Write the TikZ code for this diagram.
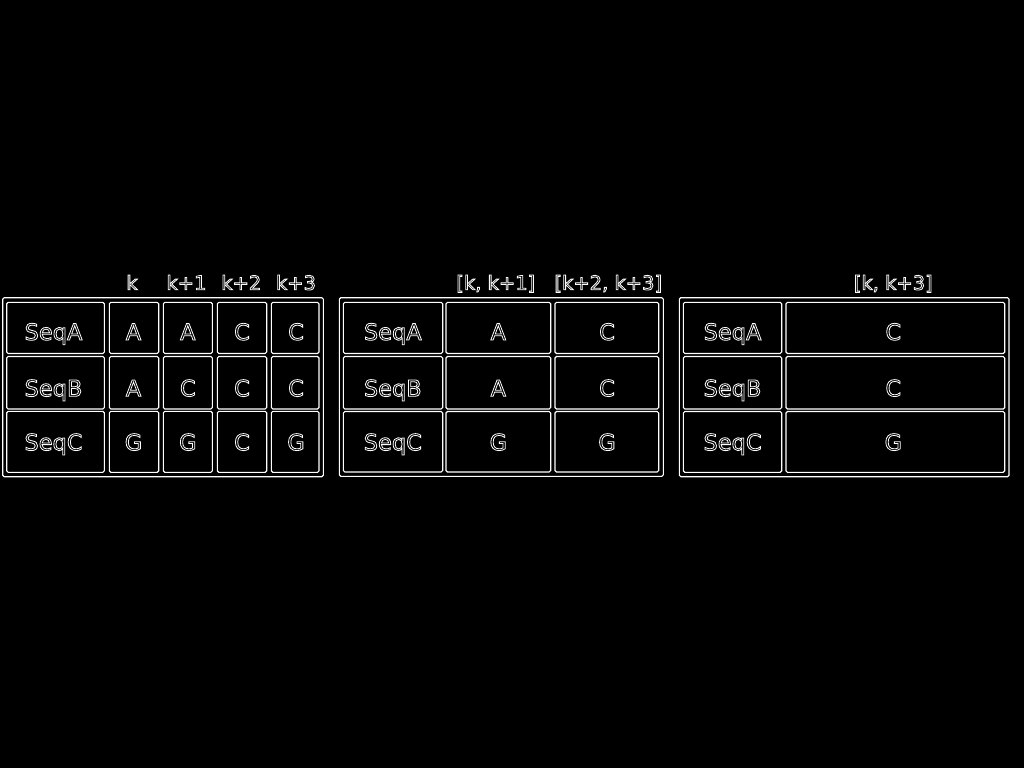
\documentclass[tikz,border=0pt]{standalone}
\usepackage{fontspec}
\setmainfont{DejaVu Sans}
\newcommand\hollow[1]{\special{pdf:literal direct 1 Tr 0.8 w 1 1 1 RG}#1\special{pdf:literal direct 0 Tr}}
\tikzset{
  cell/.style={draw=white, line width=1.1pt, rounded corners=1.5pt, inner sep=0pt},
  txt/.style={text=white, inner sep=0pt, anchor=base, font=\fontsize{22.5}{22.5}\selectfont},
  hdr/.style={text=white, inner sep=0pt, anchor=base, font=\fontsize{19.5}{19.5}\selectfont}
}
% box from (x1,y1) to (x2,y2), y pointing down
\newcommand\cellbox[5]{\node[cell, minimum width={(#4-#2)*1pt}, minimum height={(#5-#3)*1pt}] (#1) at ({(#2+#4)/2},{(#3+#5)/2}) {};}
\begin{document}
\begin{tikzpicture}[x=1pt,y=-1pt]
\fill[black] (0,0) rectangle (1024,768);
\useasboundingbox (0,0) rectangle (1024,768);
% ---------- panel 1
\cellbox{p1}{2.7}{297.7}{323.3}{476.7}
\cellbox{p1a0}{6.7}{302.3}{104.3}{353.5}
\cellbox{p1a1}{109.3}{302.3}{158.7}{353.5}
\cellbox{p1a2}{163.3}{302.3}{212.3}{353.5}
\cellbox{p1a3}{217.3}{302.3}{266.7}{353.5}
\cellbox{p1a4}{271.3}{302.3}{319}{353.5}
\cellbox{p1b0}{6.7}{356.5}{104.3}{409}
\cellbox{p1b1}{109.3}{356.5}{158.7}{409}
\cellbox{p1b2}{163.3}{356.5}{212.3}{409}
\cellbox{p1b3}{217.3}{356.5}{266.7}{409}
\cellbox{p1b4}{271.3}{356.5}{319}{409}
\cellbox{p1c0}{6.7}{411.3}{104.3}{472.3}
\cellbox{p1c1}{109.3}{411.3}{158.7}{472.3}
\cellbox{p1c2}{163.3}{411.3}{212.3}{472.3}
\cellbox{p1c3}{217.3}{411.3}{266.7}{472.3}
\cellbox{p1c4}{271.3}{411.3}{319}{472.3}
\node[txt] (t1a0) at (53.5,340) {\hollow{SeqA}};
\node[txt] (t1a1) at (133.5,340) {\hollow{A}};
\node[txt] (t1a2) at (187.8,340) {\hollow{A}};
\node[txt] (t1a3) at (242,340) {\hollow{C}};
\node[txt] (t1a4) at (296,340) {\hollow{C}};
\node[txt] (t1b0) at (53.5,396.3) {\hollow{SeqB}};
\node[txt] (t1b1) at (133.5,396.3) {\hollow{A}};
\node[txt] (t1b2) at (187.8,396.3) {\hollow{C}};
\node[txt] (t1b3) at (242,396.3) {\hollow{C}};
\node[txt] (t1b4) at (296,396.3) {\hollow{C}};
\node[txt] (t1c0) at (53.5,450.3) {\hollow{SeqC}};
\node[txt] (t1c1) at (133.5,450.3) {\hollow{G}};
\node[txt] (t1c2) at (187.8,450.3) {\hollow{G}};
\node[txt] (t1c3) at (242,450.3) {\hollow{C}};
\node[txt] (t1c4) at (296,450.3) {\hollow{G}};
\node[hdr] (h1) at (132,289.8) {\hollow{k}};
\node[hdr] (h2) at (186.5,289.8) {\hollow{k+1}};
\node[hdr] (h3) at (241.3,289.8) {\hollow{k+2}};
\node[hdr] (h4) at (296,289.8) {\hollow{k+3}};
% ---------- panel 2
\cellbox{p2}{339.3}{297.7}{663.3}{476.3}
\cellbox{p2a0}{343.3}{302.3}{442.7}{353.5}
\cellbox{p2a1}{446}{302.3}{550.7}{353.5}
\cellbox{p2a2}{555}{302.3}{658.7}{353.5}
\cellbox{p2b0}{343.3}{356.5}{442.7}{409}
\cellbox{p2b1}{446}{356.5}{550.7}{409}
\cellbox{p2b2}{555}{356.5}{658.7}{409}
\cellbox{p2c0}{343.3}{411.5}{442.7}{472}
\cellbox{p2c1}{446}{411.5}{550.7}{472}
\cellbox{p2c2}{555}{411.5}{658.7}{472}
\node[txt] (t2a0) at (392.8,340) {\hollow{SeqA}};
\node[txt] (t2a1) at (498.3,340) {\hollow{A}};
\node[txt] (t2a2) at (607,340) {\hollow{C}};
\node[txt] (t2b0) at (392.8,396.3) {\hollow{SeqB}};
\node[txt] (t2b1) at (498.3,396.3) {\hollow{A}};
\node[txt] (t2b2) at (607,396.3) {\hollow{C}};
\node[txt] (t2c0) at (392.8,450.3) {\hollow{SeqC}};
\node[txt] (t2c1) at (498.3,450.3) {\hollow{G}};
\node[txt] (t2c2) at (607,450.3) {\hollow{G}};
\node[hdr] (h5) at (495.8,289.8) {\hollow{[k, k+1]}};
\node[hdr] (h6) at (608.3,289.8) {\hollow{[k+2, k+3]}};
% ---------- panel 3
\cellbox{p3}{679.3}{297.7}{1009}{476.7}
\cellbox{p3a0}{683.3}{302.3}{781.7}{353.5}
\cellbox{p3a1}{786}{302.3}{1004.7}{353.5}
\cellbox{p3b0}{683.3}{356.5}{781.7}{409}
\cellbox{p3b1}{786}{356.5}{1004.7}{409}
\cellbox{p3c0}{683.3}{411.5}{781.7}{472.3}
\cellbox{p3c1}{786}{411.5}{1004.7}{472.3}
\node[txt] (t3a0) at (732.5,340) {\hollow{SeqA}};
\node[txt] (t3a1) at (893.3,340) {\hollow{C}};
\node[txt] (t3b0) at (732.5,396.3) {\hollow{SeqB}};
\node[txt] (t3b1) at (893.3,396.3) {\hollow{C}};
\node[txt] (t3c0) at (732.5,450.3) {\hollow{SeqC}};
\node[txt] (t3c1) at (893.3,450.3) {\hollow{G}};
\node[hdr] (h7) at (893.3,289.8) {\hollow{[k, k+3]}};
\end{tikzpicture}
\end{document}
